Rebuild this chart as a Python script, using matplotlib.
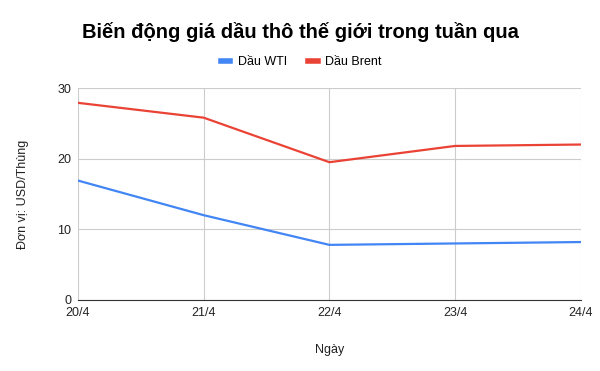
import matplotlib
matplotlib.use("Agg")
from matplotlib import pyplot as plt

# Données
ngay = ["20/4", "21/4", "22/4", "23/4", "24/4"]
dau_wti = [16.9, 12.0, 7.8, 8.0, 8.2]
dau_brent = [27.9, 25.8, 19.5, 21.8, 22.0]
y_ticks = [0, 10, 20, 30]

plt.rcParams["font.family"] = ["Liberation Sans", "DejaVu Sans"]

fig = plt.figure(figsize=(6, 3.71), dpi=100)
ax = fig.add_axes([0.13, 0.1914, 0.838, 0.5714])

x = list(range(len(ngay)))
ax.plot(x, dau_wti, color="#4285F4", lw=1.6, label="Dầu WTI")
ax.plot(x, dau_brent, color="#EA4335", lw=1.6, label="Dầu Brent")

ax.set_xlim(0, len(ngay) - 1)
ax.set_ylim(0, 30)
ax.set_xticks(x)
ax.set_xticklabels(ngay)
ax.set_yticks(y_ticks)
ax.grid(True, color="#cccccc", lw=0.8)
ax.set_axisbelow(True)
for s in ["left", "right", "top"]:
    ax.spines[s].set_visible(False)
ax.spines["bottom"].set_color("#333333")
ax.tick_params(length=0, labelsize=9, colors="#222222", pad=5)

ax.set_xlabel("Ngày", fontsize=9, color="#222222", labelpad=18)
ax.set_ylabel("Đơn vị: USD/Thùng", fontsize=9, color="#222222", labelpad=20)

fig.text(0.137, 0.913, "Biến động giá dầu thô thế giới trong tuần qua",
         fontsize=14.5, fontweight="bold", va="center", ha="left")
leg = fig.legend(loc="center", bbox_to_anchor=(0.502, 0.833), ncol=2, frameon=False,
                 fontsize=9, handlelength=0.75, handleheight=0.5, columnspacing=1.7,
                 handletextpad=0.6)
for h in leg.get_lines():
    h.set_linewidth(4)

fig.savefig("out.png", dpi=100)
